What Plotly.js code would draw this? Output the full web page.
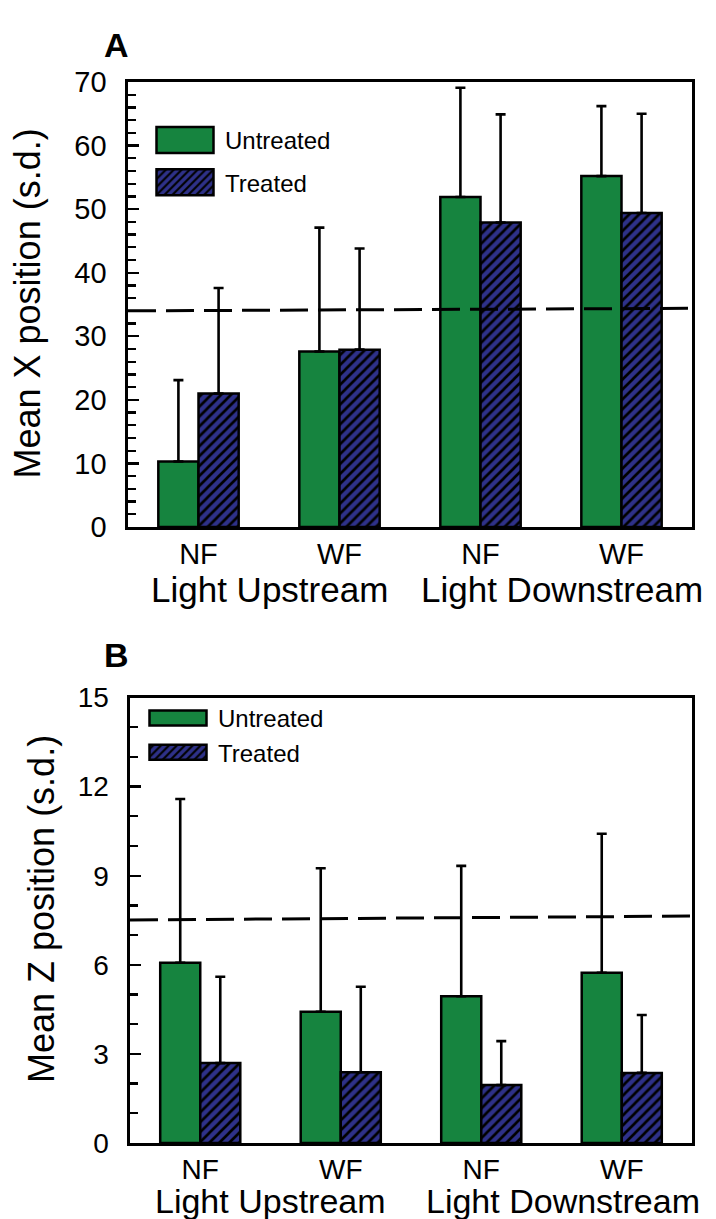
<!DOCTYPE html>
<html>
<head>
<meta charset="utf-8">
<script src="https://cdn.plot.ly/plotly-3.0.1.min.js"></script>
<style>
  html, body { margin: 0; padding: 0; background: #ffffff; }
  #chart { width: 716px; height: 1219px; }
</style>
</head>
<body>
<div id="chart"></div>
<script>
// ---------------- data ----------------
const conditions = ['NF', 'WF', 'NF', 'WF'];
const groups = ['Light Upstream', 'Light Downstream'];
const seriesNames = ['Untreated', 'Treated'];

// Panel A: Mean X position (s.d.)
const xUntreated = [10.3, 27.6, 51.9, 55.2];
const xUntreatedSD = [12.8, 19.5, 17.2, 11.0];
const xTreated = [21.0, 27.9, 47.9, 49.4];
const xTreatedSD = [16.6, 15.9, 17.0, 15.6];
const xReference = [34.0, 34.4];

// Panel B: Mean Z position (s.d.)
const zUntreated = [6.07, 4.42, 4.94, 5.73];
const zUntreatedSD = [5.51, 4.83, 4.39, 4.68];
const zTreated = [2.69, 2.38, 1.95, 2.36];
const zTreatedSD = [2.91, 2.88, 1.48, 1.95];
const zReference = [7.51, 7.64];

// ---------------- style ----------------
const W = 716, H = 1219;
const GREEN = '#16843f';
const NAVY = '#2e3189';
const FONT = 'Liberation Sans, Arial, Helvetica, sans-serif';
const px2x = p => p / W;
const px2y = p => 1 - p / H;

const pos = conditions.map((_, i) => i);
const zeros = conditions.map(() => 0);
const groupCenters = groups.map((_, g) => (pos[2 * g] + pos[2 * g + 1]) / 2);

function barTrace(name, y, sd, xa, ya, legend, treated) {
  const t = {
    type: 'bar', name: name, x: pos, y: y,
    xaxis: xa, yaxis: ya, legend: legend,
    legendgroup: name + legend, showlegend: true,
    marker: {
      color: treated ? NAVY : GREEN,
      line: { color: '#000000', width: 2.5 }
    },
    error_y: {
      type: 'data', symmetric: false, array: sd, arrayminus: zeros,
      color: '#000000', thickness: 2.6, width: 5
    },
    hoverinfo: 'skip'
  };
  if (treated) {
    t.marker.pattern = { shape: '/', fgcolor: '#000000', bgcolor: NAVY, size: 7, solidity: 0.38 };
  }
  return t;
}

function refTrace(vals, xa, ya) {
  return {
    type: 'scatter', mode: 'lines', x: [-0.5, 3.5], y: vals,
    xaxis: xa, yaxis: ya, showlegend: false, hoverinfo: 'skip',
    line: { color: '#000000', width: 3, dash: '28px,10px' },
    cliponaxis: false
  };
}

const data = [
  barTrace(seriesNames[0], xUntreated, xUntreatedSD, 'x', 'y', 'legend', false),
  barTrace(seriesNames[1], xTreated, xTreatedSD, 'x', 'y', 'legend', true),
  refTrace(xReference, 'x', 'y'),
  barTrace(seriesNames[0], zUntreated, zUntreatedSD, 'x2', 'y2', 'legend2', false),
  barTrace(seriesNames[1], zTreated, zTreatedSD, 'x2', 'y2', 'legend2', true),
  refTrace(zReference, 'x2', 'y2')
];

function xAxis(domain, anchor, fs) {
  return {
    domain: domain, anchor: anchor, range: [-0.5, 3.5],
    tickmode: 'array', tickvals: pos, ticktext: conditions,
    ticks: '', showgrid: false, zeroline: false,
    showline: true, linecolor: '#000000', linewidth: 2.6, mirror: true,
    tickfont: { family: FONT, size: fs, color: '#000000' },
    ticklabelstandoff: 0, fixedrange: true
  };
}
function yAxis(domain, anchor, range, dtick, minorDtick, fs) {
  return {
    domain: domain, anchor: anchor, range: range,
    tick0: 0, dtick: dtick, ticks: 'inside', ticklen: 11, tickwidth: 2.4, tickcolor: '#000000',
    minor: { dtick: minorDtick, ticks: 'inside', ticklen: 8, tickwidth: 2.2, tickcolor: '#000000', showgrid: false },
    showgrid: false, zeroline: false,
    showline: true, linecolor: '#000000', linewidth: 2.6, mirror: true,
    tickfont: { family: FONT, size: fs, color: '#000000' },
    ticklabelstandoff: 13, fixedrange: true
  };
}

const layout = {
  width: W, height: H,
  margin: { l: 0, r: 0, t: 0, b: 0 },
  paper_bgcolor: '#ffffff', plot_bgcolor: '#ffffff',
  font: { family: FONT, color: '#000000' },
  barmode: 'group', bargap: 0.43, bargroupgap: 0,
  xaxis: xAxis([px2x(128), px2x(692)], 'y', 29),
  yaxis: yAxis([px2y(527), px2y(82)], 'x', [0, 70], 10, 2, 29),
  xaxis2: xAxis([px2x(130), px2x(692)], 'y2', 28),
  yaxis2: yAxis([px2y(1143), px2y(697.5)], 'x2', [0, 15], 3, 1, 28),
  legend: {
    x: px2x(145), y: px2y(118), xanchor: 'left', yanchor: 'top',
    bgcolor: 'rgba(0,0,0,0)', borderwidth: 0,
    font: { family: FONT, size: 24, color: '#000000' },
    traceorder: 'grouped', tracegroupgap: 8, itemwidth: 70
  },
  legend2: {
    x: px2x(138), y: px2y(696), xanchor: 'left', yanchor: 'top',
    bgcolor: 'rgba(0,0,0,0)', borderwidth: 0,
    font: { family: FONT, size: 24, color: '#000000' },
    traceorder: 'grouped', tracegroupgap: 0, itemwidth: 70
  },
  annotations: [
    { text: '<b>A</b>', xref: 'paper', yref: 'paper', x: px2x(116), y: px2y(45),
      xanchor: 'center', yanchor: 'middle', showarrow: false, font: { size: 34, family: FONT } },
    { text: '<b>B</b>', xref: 'paper', yref: 'paper', x: px2x(116), y: px2y(655),
      xanchor: 'center', yanchor: 'middle', showarrow: false, font: { size: 34, family: FONT } },
    { text: 'Mean X position (s.d.)', xref: 'paper', yref: 'paper', x: px2x(27), y: px2y(303.5),
      xanchor: 'center', yanchor: 'middle', textangle: -90, showarrow: false, font: { size: 36, family: FONT } },
    { text: 'Mean Z position (s.d.)', xref: 'paper', yref: 'paper', x: px2x(41), y: px2y(909),
      xanchor: 'center', yanchor: 'middle', textangle: -90, showarrow: false, font: { size: 36, family: FONT } },
    { text: groups[0], xref: 'x', yref: 'paper', x: groupCenters[0], y: px2y(589),
      xanchor: 'center', yanchor: 'middle', showarrow: false, font: { size: 35, family: FONT } },
    { text: groups[1], xref: 'x', yref: 'paper', x: groupCenters[1] + 0.08, y: px2y(589),
      xanchor: 'center', yanchor: 'middle', showarrow: false, font: { size: 35, family: FONT } },
    { text: groups[0], xref: 'x2', yref: 'paper', x: groupCenters[0], y: px2y(1201),
      xanchor: 'center', yanchor: 'middle', showarrow: false, font: { size: 34, family: FONT } },
    { text: groups[1], xref: 'x2', yref: 'paper', x: groupCenters[1] + 0.08, y: px2y(1201),
      xanchor: 'center', yanchor: 'middle', showarrow: false, font: { size: 34, family: FONT } }
  ]
};

Plotly.newPlot('chart', data, layout, { staticPlot: true, displayModeBar: false }).then(function (gd) {
  // widen legend swatches to the wide boxes of the original figure (pattern kept unscaled)
  const boxes = { legend: [28.5, 13], legend2: [28.5, 7.5] };
  Object.keys(boxes).forEach(function (cls) {
    const lg = gd.querySelector('g.' + cls);
    if (!lg) return;
    const b = boxes[cls];
    lg.querySelectorAll('.legendpoints path').forEach(function (p) {
      p.setAttribute('d', 'M' + b[0] + ',' + b[1] + 'H-' + b[0] + 'V-' + b[1] + 'H' + b[0] + 'Z');
      p.style.strokeWidth = '2.5px';
      p.style.stroke = '#000000';
    });
  });
});
</script>
</body>
</html>
